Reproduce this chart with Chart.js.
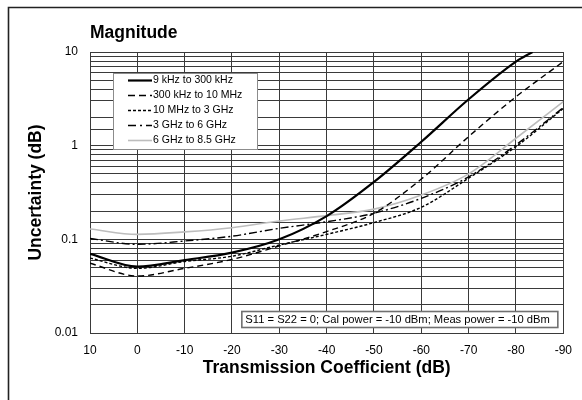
<!DOCTYPE html>
<html>
<head>
<meta charset="utf-8">
<script src="https://cdn.jsdelivr.net/npm/chart.js@4.4.1/dist/chart.umd.min.js"></script>
<style>
  html, body { margin: 0; padding: 0; background: #fff; }
  #wrap { width: 582px; height: 400px; }
</style>
</head>
<body>
<div id="wrap"><canvas id="magChart" width="582" height="400"></canvas></div>
<script>
// transmission coefficient (dB), one point every 10 dB
const xVals = [10, 0, -10, -20, -30, -40, -50, -60, -70, -80, -90];
// the 9 kHz curve leaves the top of the chart before -90 dB
const xSolid = [10, 0, -10, -20, -30, -40, -50, -60, -70, -80, -83.5];

const seriesNames = ['9 kHz to 300 kHz', '300 kHz to 10 MHz', '10 MHz to 3 GHz', '3 GHz to 6 GHz', '6 GHz to 8.5 GHz'];

// uncertainty (dB)
const khz9 = [0.070, 0.051, 0.060, 0.072, 0.100, 0.177, 0.41, 1.10, 3.13, 7.9, 10];
const khz300 = [0.0555, 0.0406, 0.049, 0.061, 0.085, 0.121, 0.19, 0.44, 1.25, 3.33, 7.9];
const mhz10 = [0.063, 0.049, 0.058, 0.066, 0.087, 0.113, 0.151, 0.22, 0.45, 0.975, 2.5];
const ghz3 = [0.102, 0.0885, 0.096, 0.108, 0.131, 0.154, 0.19, 0.274, 0.465, 1.02, 2.55];
const ghz6 = [0.129, 0.113, 0.12, 0.133, 0.157, 0.179, 0.21, 0.297, 0.50, 1.2, 2.95];

const yTickLabels = ['0.01', '0.1', '1', '10'];
const noteText = 'S11 = S22 = 0; Cal power = -10 dBm; Meas power = -10 dBm';

Chart.defaults.font.family = '"Liberation Sans", Arial, sans-serif';
Chart.defaults.color = '#000';

function pts(xs, ys) {
  return xs.map((x, i) => ({x: x, y: ys[i]}));
}

const gridColor = '#3a3a3a';
const titleFont = {size: 17.5, weight: 'bold'};

// frame round the whole figure, legend box and the note box
const extras = {
  id: 'extras',
  afterDatasetsDraw(chart) {
    const {ctx, chartArea} = chart;
    ctx.save();

    // legend
    const lx = chartArea.left + 23, ly = chartArea.top + 21;
    ctx.fillStyle = '#fff';
    ctx.fillRect(lx, ly, 144, 76);
    ctx.strokeStyle = '#8c8c8c';
    ctx.lineWidth = 1;
    ctx.strokeRect(lx + 0.5, ly + 0.5, 144, 76);
    ctx.font = '10.5px "Liberation Sans", Arial, sans-serif';
    ctx.textBaseline = 'middle';
    chart.data.datasets.forEach((ds, i) => {
      const y = ly + 7.5 + i * 15;
      ctx.strokeStyle = ds.borderColor;
      ctx.lineWidth = ds.borderWidth;
      ctx.setLineDash(ds.legendDash);
      ctx.beginPath();
      ctx.moveTo(lx + 15, y);
      ctx.lineTo(lx + 39, y);
      ctx.stroke();
      ctx.setLineDash([]);
      ctx.fillStyle = '#000';
      ctx.fillText(ds.label, lx + 40, y);
    });

    // note
    const nx = chartArea.right - 322, ny = chartArea.bottom - 22;
    ctx.fillStyle = '#fff';
    ctx.fillRect(nx, ny, 316, 16);
    ctx.strokeStyle = '#707070';
    ctx.strokeRect(nx + 0.5, ny + 0.5, 316, 16);
    ctx.fillStyle = '#000';
    ctx.font = '11.2px "Liberation Sans", Arial, sans-serif';
    ctx.fillText(noteText, nx + 4, ny + 8.5);

    // title
    ctx.font = 'bold 17.5px "Liberation Sans", Arial, sans-serif';
    ctx.textBaseline = 'alphabetic';
    ctx.fillText('Magnitude', chartArea.left, 38);

    // outer frame
    ctx.strokeStyle = '#222';
    ctx.lineWidth = 1.6;
    ctx.beginPath();
    ctx.moveTo(8.5, 400);
    ctx.lineTo(8.5, 7.5);
    ctx.lineTo(582, 7.5);
    ctx.stroke();
    ctx.restore();
  }
};

const ctx1 = document.getElementById('magChart');
new Chart(ctx1, {
  type: 'line',
  data: {
    datasets: [{
      label: seriesNames[0],
      data: pts(xSolid, khz9),
      borderColor: '#000',
      borderWidth: 2.2,
      legendDash: []
    }, {
      label: seriesNames[1],
      data: pts(xVals, khz300),
      borderColor: '#000',
      borderWidth: 1.4,
      borderDash: [6, 4],
      legendDash: [7, 4]
    }, {
      label: seriesNames[2],
      data: pts(xVals, mhz10),
      borderColor: '#000',
      borderWidth: 1.4,
      borderDash: [3, 2],
      legendDash: [3, 2]
    }, {
      label: seriesNames[3],
      data: pts(xVals, ghz3),
      borderColor: '#000',
      borderWidth: 1.4,
      borderDash: [8, 3, 2, 3],
      legendDash: [8, 4, 2, 4]
    }, {
      label: seriesNames[4],
      data: pts(xVals, ghz6),
      borderColor: '#bdbdbd',
      borderWidth: 1.6,
      legendDash: []
    }]
  },
  options: {
    responsive: false,
    animation: false,
    elements: {
      point: {radius: 0},
      line: {cubicInterpolationMode: 'monotone', fill: false}
    },
    layout: {padding: {left: 10, top: 52, right: 17, bottom: 0}},
    scales: {
      x: {
        type: 'linear',
        reverse: true,
        min: -90,
        max: 10,
        ticks: {stepSize: 10, padding: 10, font: {size: 12}},
        grid: {color: gridColor, drawTicks: false},
        border: {color: gridColor},
        title: {display: true, text: 'Transmission Coefficient (dB)', font: titleFont, padding: {top: 0, bottom: 21}},
        afterFit: s => { s.height = 67; }
      },
      y: {
        type: 'logarithmic',
        min: 0.01,
        max: 10,
        ticks: {
          autoSkip: false,
          padding: 12,
          font: {size: 12},
          callback: v => {
            const l = Math.log10(v);
            return Math.abs(l - Math.round(l)) < 1e-6 ? yTickLabels[Math.round(l) + 2] : '';
          }
        },
        grid: {color: gridColor, drawTicks: false},
        border: {color: gridColor},
        title: {display: true, text: 'Uncertainty (dB)', font: titleFont, padding: {top: 16, bottom: 0}},
        afterFit: s => { s.width = 80; }
      }
    },
    plugins: {
      legend: {display: false},
      tooltip: {enabled: false}
    }
  },
  plugins: [extras]
});
</script>
</body>
</html>
